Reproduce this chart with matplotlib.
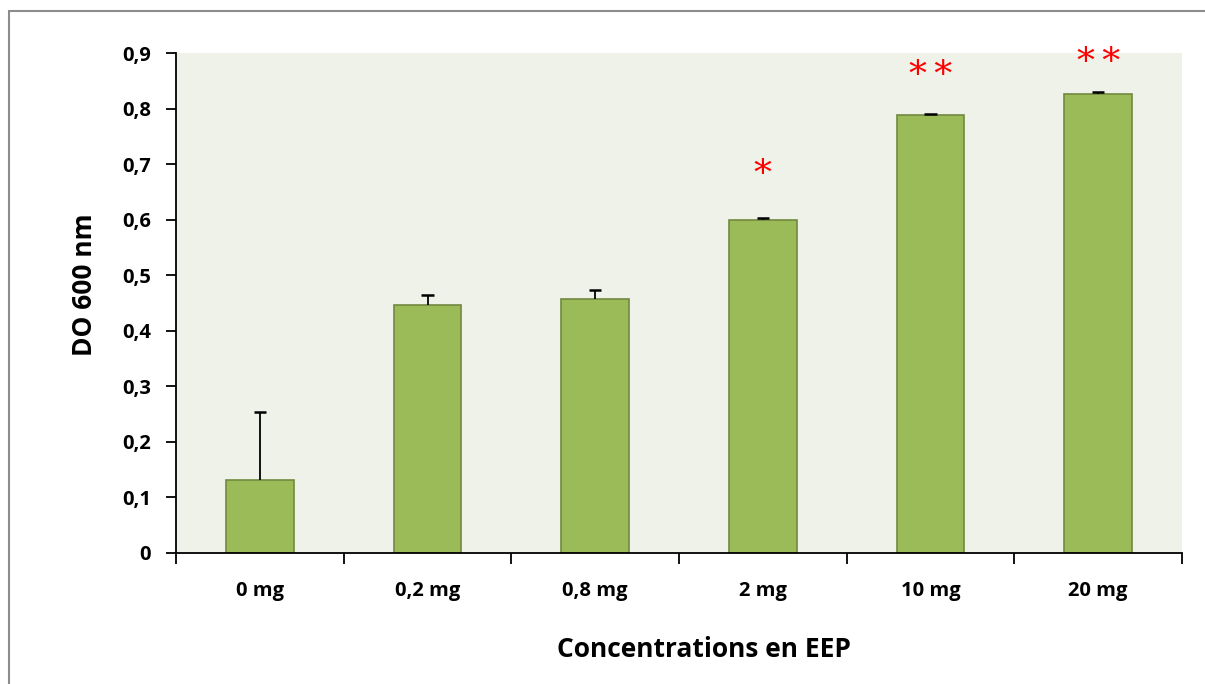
import matplotlib
matplotlib.use("Agg")
import matplotlib.pyplot as plt
from matplotlib.patches import Rectangle
import numpy as np

categories = ["0 mg", "0,2 mg", "0,8 mg", "2 mg", "10 mg", "20 mg"]
do600 = [0.131, 0.447, 0.458, 0.599, 0.789, 0.826]
err_up = [0.122, 0.017, 0.015, 0.004, 0.002, 0.004]
signif = ["", "", "", "*", "*\u2009*", "*\u2009*"]
signif_y = [0.0, 0.0, 0.0, 0.681, 0.859, 0.882]

plt.rcParams["font.family"] = ["Open Sans", "DejaVu Sans"]

fig = plt.figure(figsize=(12.05, 6.84), dpi=100)
# outer chart frame (Excel style, clipped on right/bottom)
fig.patches.append(Rectangle((8.5 / 1205, -0.1), 1.2, 1 - 11.5 / 684 + 0.1,
                             transform=fig.transFigure, fill=False,
                             edgecolor="#8c8c8c", lw=1.5))

ax = fig.add_axes([176 / 1205, 1 - 553 / 684, 1006 / 1205, 500 / 684])
ax.set_facecolor("#EFF2E9")

x = np.arange(len(categories))
ax.bar(x, do600, width=0.405, color="#9BBB59", edgecolor="#71893F", lw=1.2, zorder=2)
# upper-only error bars (no cap at the bar top)
tops = np.array(do600) + np.array(err_up)
ax.vlines(x, do600, tops, color="black", lw=1.3, zorder=3)
ax.hlines(tops, x - 0.036, x + 0.036, color="black", lw=1.8, zorder=3)

for xi, s, yv in zip(x, signif, signif_y):
    if s:
        ax.text(xi, yv, s, color="red", ha="center", va="center",
                fontsize=26, family="DejaVu Serif")

ax.set_xlim(-0.5, len(categories) - 0.5)
ax.set_ylim(0, 0.9)
ax.set_yticks(np.arange(0, 0.91, 0.1))
ax.set_yticklabels(["0"] + ["0,%d" % i for i in range(1, 10)])
ax.set_xticks(x)
ax.set_xticklabels(categories)
ax.set_xticks(np.arange(-0.5, len(categories), 1.0), minor=True)
ax.tick_params(axis="x", which="major", length=0, pad=20, labelsize=14.5)
ax.tick_params(axis="x", which="minor", length=8, width=1.3, direction="out")
ax.tick_params(axis="y", length=7, width=1.3, pad=11, labelsize=14.5)
for lab in ax.get_xticklabels() + ax.get_yticklabels():
    lab.set_fontweight("bold")

for sp in ["top", "right"]:
    ax.spines[sp].set_visible(False)
for sp in ["left", "bottom"]:
    ax.spines[sp].set_linewidth(1.3)

ax.set_xlabel("Concentrations en EEP", fontsize=19, fontweight="bold")
ax.xaxis.set_label_coords(0.525, -0.166)
ax.set_ylabel("DO 600 nm", fontsize=19, fontweight="bold")
ax.yaxis.set_label_coords(-0.078, 0.536)

fig.savefig("out.png", dpi=100)
